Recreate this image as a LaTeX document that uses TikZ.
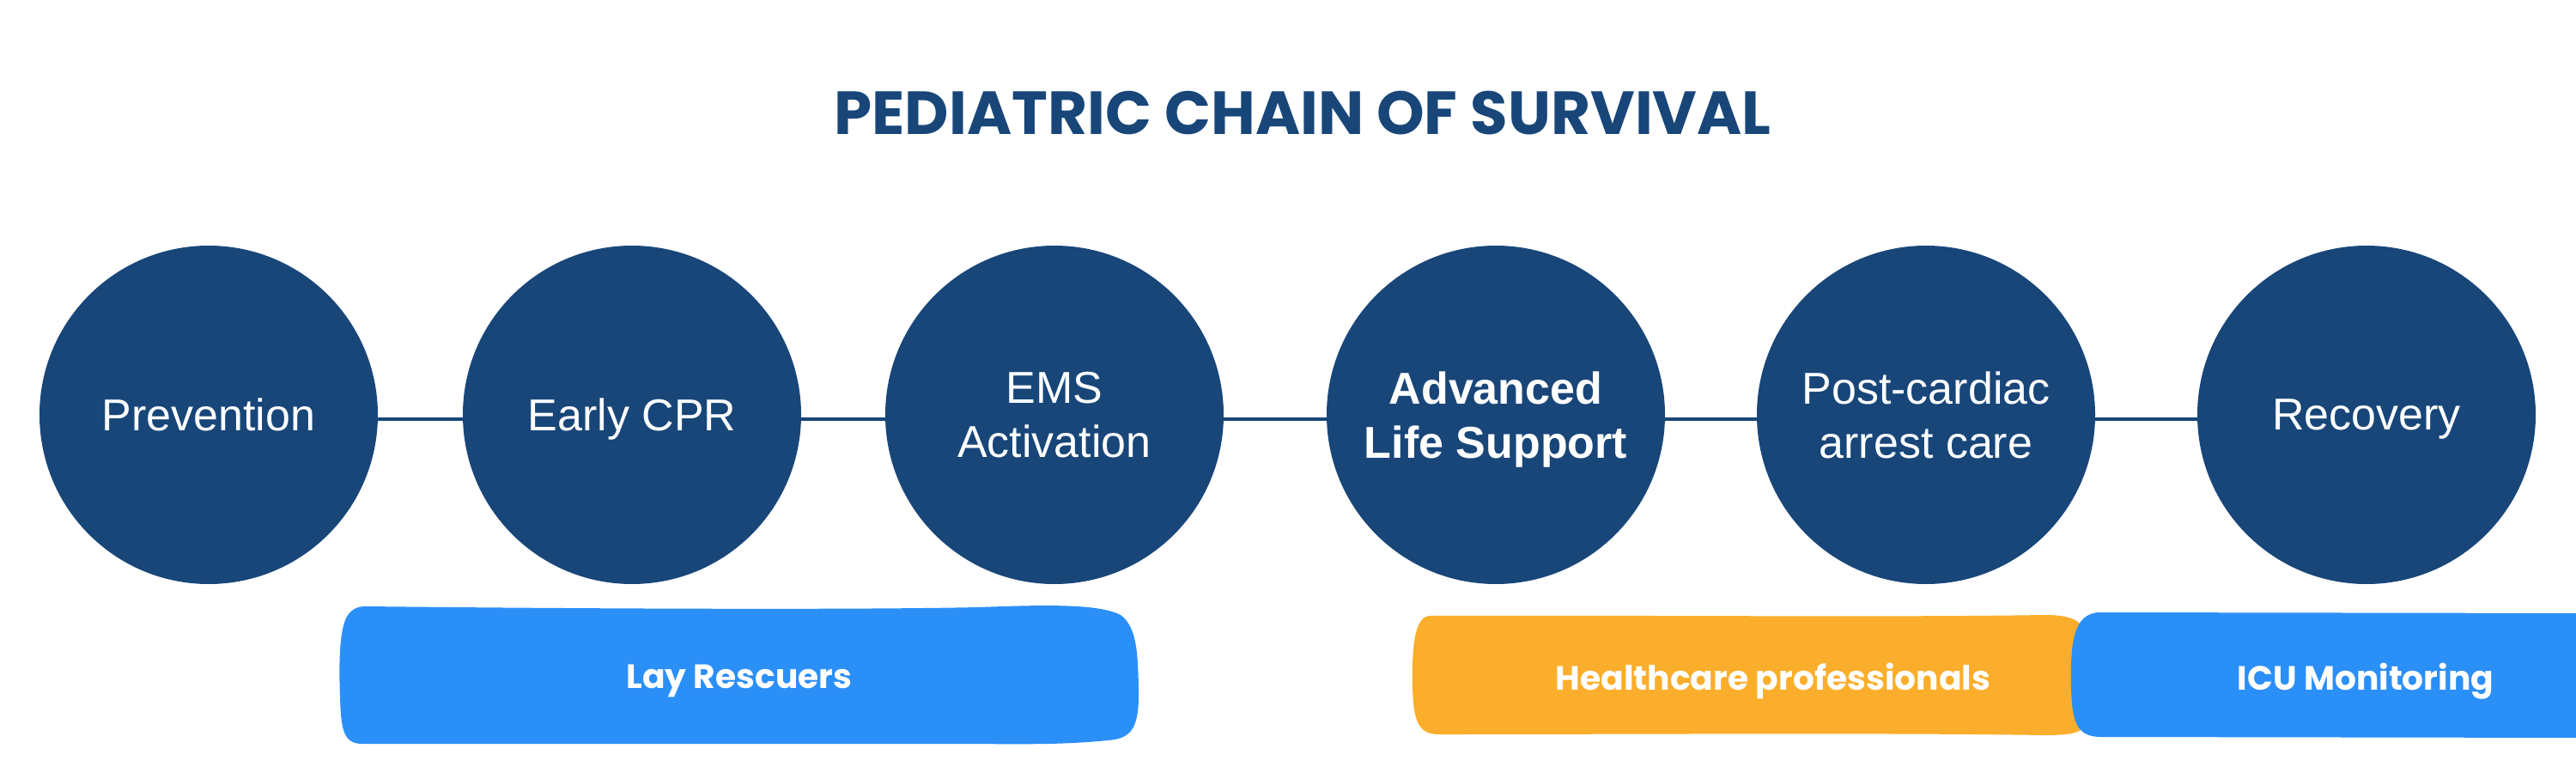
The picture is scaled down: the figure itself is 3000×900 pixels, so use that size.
\documentclass[tikz,border=0pt]{standalone}
\usepackage{fontspec}
\setmainfont{Liberation Sans}
\newfontfamily\popfont{Poppins}
\definecolor{navy}{HTML}{184679}
\definecolor{brightblue}{HTML}{2B8FF8}
\definecolor{amber}{HTML}{FBAE2B}
\begin{document}
\begin{tikzpicture}[x=0.5pt,y=-0.5pt,
  stage/.style={circle,fill=navy,minimum size=197pt,inner sep=0pt,text=white,align=center,text depth=0pt,font=\fontsize{26}{31.5}\selectfont},
  link/.style={draw=navy,line width=2.3pt},
  bartext/.style={text=white,text depth=0pt,font=\popfont\bfseries\fontsize{19.6}{24}\selectfont}]
\useasboundingbox (0,0) rectangle (3000,900);
\fill[white] (0,0) rectangle (3000,900);
\node[font=\popfont\bfseries\fontsize{35.4}{40}\selectfont,text=navy,text depth=0pt] (title) at (1517,131) {PEDIATRIC CHAIN OF SURVIVAL};
% stages
\node[stage] (c1) at (243,483) {Prevention};
\node[stage] (c2) at (736,483) {Early CPR};
\node[stage] (c3) at (1228,483) {EMS\\Activation};
\node[stage] (c4) at (1742,483) {\bfseries Advanced\\\bfseries Life Support};
\node[stage] (c5) at (2243,483) {Post-cardiac\\arrest care};
\node[stage] (c6) at (2756,483) {Recovery};
\foreach \a/\b in {c1/c2,c2/c3,c3/c4,c4/c5,c5/c6}
  \draw[link] ([yshift=-2.5pt]\a.east) -- ([yshift=-2.5pt]\b.west);
% bars
\fill[brightblue] (426,706) .. controls (700,709) and (1000,710) .. (1140,707)
  .. controls (1220,704) and (1280,703) .. (1305,716)
  .. controls (1324,730) and (1325,760) .. (1326,800)
  .. controls (1327,845) and (1320,860) .. (1290,862)
  .. controls (1230,868) and (1180,866) .. (1100,866)
  -- (422,866) .. controls (400,866) and (397,850) .. (396,810)
  .. controls (394,760) and (397,730) .. (404,718)
  .. controls (410,708) and (418,706) .. (426,706) -- cycle;
\fill[amber] (1665,717) .. controls (1900,716) and (2200,719) .. (2380,716)
  .. controls (2420,716) and (2432,725) .. (2432,760)
  -- (2432,830) .. controls (2432,852) and (2420,856) .. (2380,856)
  .. controls (2200,853) and (1900,855) .. (1676,855)
  .. controls (1652,855) and (1646,840) .. (1645,800)
  .. controls (1644,750) and (1648,718) .. (1665,717) -- cycle;
\fill[brightblue] (2445,713) -- (3020,714) -- (3020,859) -- (2445,858)
  .. controls (2418,857) and (2413,840) .. (2412,800)
  .. controls (2411,750) and (2414,714) .. (2445,713) -- cycle;
\node[bartext] (lay) at (861,788) {Lay Rescuers};
\node[bartext] (hcp) at (2065,788) {Healthcare professionals};
\node[bartext] (icu) at (2755,788) {ICU Monitoring};
\end{tikzpicture}
\end{document}
